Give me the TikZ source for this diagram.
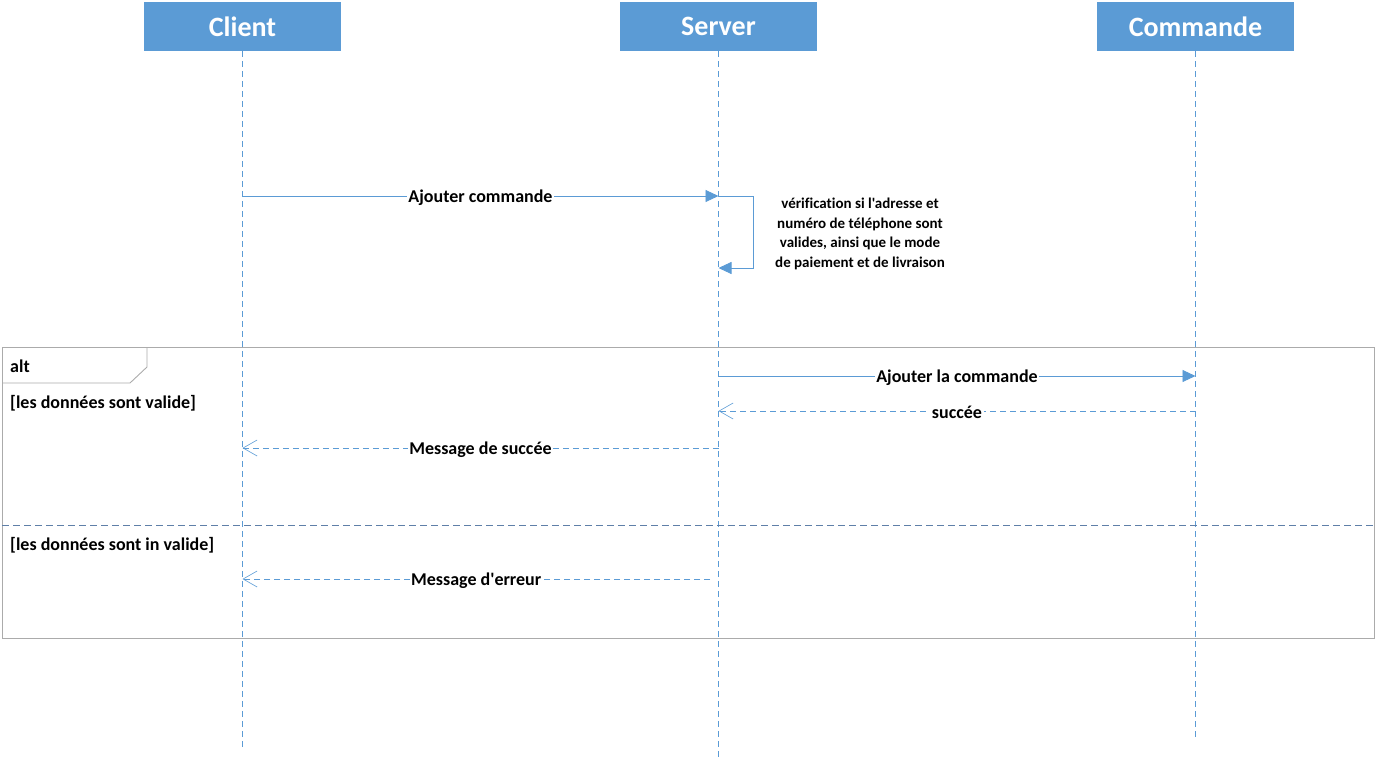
\documentclass[tikz,border=0pt]{standalone}
\usepackage{fontspec}
\setmainfont{Carlito}[Ligatures={TeXOff,NoCommon}]
\usetikzlibrary{arrows.meta}
\definecolor{lblue}{HTML}{5B9BD5}
\definecolor{fgray}{HTML}{ABABAB}
\definecolor{sepblue}{HTML}{5F7FA8}
\begin{document}
\begin{tikzpicture}[x=1pt,y=-1pt,
  actor/.style={fill=lblue, minimum width=197pt, minimum height=49pt, inner sep=0pt,
    text=white, font=\fontsize{28}{32}\selectfont\bfseries},
  lifeline/.style={draw=lblue, dash pattern=on 6pt off 4pt, line width=0.7pt},
  msg/.style={draw=lblue, line width=0.9pt, -{Triangle[length=13pt,width=12pt]}},
  reply/.style={draw=lblue, line width=0.8pt, dash pattern=on 6pt off 4pt,
    -{Straight Barb[length=14pt,width=16pt,line width=0.6pt]}},
  lbl/.style={fill=white, inner sep=1.5pt, yshift=-1.5pt, font=\fontsize{18}{21}\selectfont\bfseries},
  guard/.style={anchor=west, inner sep=0pt, font=\fontsize{18}{21}\selectfont\bfseries},
  note/.style={align=center, inner sep=0pt, font=\fontsize{15}{19.5}\selectfont\bfseries}]
\useasboundingbox (0,0) rectangle (1376,762);

% participants
\node[actor] (client)   at (242.5,26.5) {Client};
\node[actor] (server)   at (718.5,26.5) {Server};
\node[actor] (commande) at (1195.5,26.5) {Commande};

% lifeline ends
\coordinate (clientEnd)   at (242.5,750);
\coordinate (serverEnd)   at (718.5,760);
\coordinate (commandeEnd) at (1195.5,740);
\draw[lifeline] (client.south) -- (clientEnd);
\draw[lifeline] (server.south) -- (serverEnd);
\draw[lifeline] (commande.south) -- (commandeEnd);

% message anchor points on the lifelines
\coordinate (c1) at (242.5,196);
\coordinate (s1) at (718.5,196);
\coordinate (s1r) at (753,196);
\coordinate (s2r) at (753,268);
\coordinate (s2) at (718.5,268);
\coordinate (s3) at (718.5,376);
\coordinate (m3) at (1195.5,376);
\coordinate (m4) at (1195.5,411);
\coordinate (s4) at (718.5,411);
\coordinate (s5) at (718.5,448);
\coordinate (c5) at (242.5,448);
\coordinate (s6) at (710,579);
\coordinate (c6) at (242.5,579);

% combined fragment
\coordinate (fTL) at (2,347);
\coordinate (fBR) at (1374,638);
\draw[fgray, line width=0.9pt] (fTL) rectangle (fBR);
\draw[fgray, line width=0.9pt] (2,383) -- (130,383) -- (147,367) -- (147,347);
\node[guard] (alt) at (10,366) {alt};
\node[guard] (g1) at (10,403) {[les données sont valide]};
\coordinate (sepL) at (2,525);
\coordinate (sepR) at (1374,525);
\draw[sepblue, line width=0.8pt, dash pattern=on 7pt off 4pt] (sepL) -- (sepR);
\node[guard] (g2) at (10,545) {[les données sont in valide]};

% messages
\draw[msg] (c1) -- node[lbl] {Ajouter commande} (s1);
\draw[msg] (s1) -- (s1r) -- (s2r) -- (s2);
\node[note] (check) at (860,234) {vérification si l'adresse et\\numéro de téléphone sont\\valides, ainsi que le mode\\de paiement et de livraison};
\draw[msg] (s3) -- node[lbl] {Ajouter la commande} (m3);
\draw[reply] (m4) -- node[lbl] {succée} (s4);
\draw[reply] (s5) -- node[lbl] {Message de succée} (c5);
\draw[reply] (s6) -- node[lbl] {Message d'erreur} (c6);
\end{tikzpicture}
\end{document}
